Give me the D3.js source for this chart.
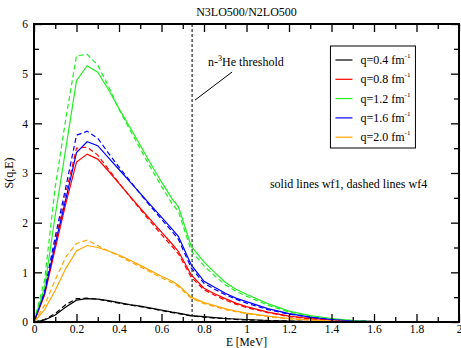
<!DOCTYPE html>
<html>
<head>
<meta charset="utf-8">
<script src="https://cdn.jsdelivr.net/npm/d3@7"></script>
<style>
  body { margin: 0; background: #fff; }
  text { font-family: "Liberation Serif", "DejaVu Serif", serif; fill: #000; }
</style>
</head>
<body>
<div id="canvas"></div>
<script>
// energies [MeV]
var energies = [0, 0.05, 0.1, 0.15, 0.2, 0.25, 0.3, 0.35, 0.4, 0.45, 0.5, 0.55, 0.6, 0.65, 0.68, 0.74,
  0.8, 0.85, 0.9, 0.95, 1.0, 1.1, 1.2, 1.3, 1.4, 1.5, 1.6];

// solid lines wf1
var q04Solid = [0, 0.04, 0.14, 0.30, 0.44, 0.47, 0.46, 0.43, 0.39, 0.35, 0.32, 0.28, 0.24, 0.20, 0.18, 0.13,
  0.11, 0.09, 0.07, 0.06, 0.05, 0.03, 0.02, 0.01, 0.005, 0, 0];
var q08Solid = [0, 0.54, 1.48, 2.39, 3.22, 3.38, 3.28, 3.04, 2.79, 2.54, 2.29, 2.05, 1.81, 1.57, 1.42, 0.95,
  0.68, 0.57, 0.47, 0.38, 0.31, 0.20, 0.12, 0.07, 0.04, 0.02, 0.01];
var q12Solid = [0, 0.70, 2.15, 3.50, 4.86, 5.16, 5.03, 4.68, 4.30, 3.93, 3.56, 3.18, 2.82, 2.48, 2.32, 1.52,
  1.21, 1.00, 0.80, 0.66, 0.56, 0.37, 0.22, 0.13, 0.07, 0.03, 0.01];
var q16Solid = [0, 0.58, 1.57, 2.48, 3.41, 3.63, 3.55, 3.31, 3.07, 2.83, 2.59, 2.35, 2.11, 1.87, 1.72, 1.15,
  0.82, 0.70, 0.58, 0.48, 0.41, 0.27, 0.17, 0.10, 0.05, 0.02, 0.01];
var q20Solid = [0, 0.25, 0.64, 1.08, 1.43, 1.54, 1.50, 1.43, 1.35, 1.25, 1.14, 1.03, 0.92, 0.82, 0.74, 0.50,
  0.39, 0.33, 0.27, 0.22, 0.18, 0.12, 0.07, 0.04, 0.02, 0.01, 0];

// dashed lines wf4
var q04Dashed = [0, 0.05, 0.17, 0.35, 0.47, 0.48, 0.46, 0.42, 0.38, 0.34, 0.31, 0.27, 0.23, 0.19, 0.17, 0.12,
  0.10, 0.08, 0.07, 0.05, 0.04, 0.03, 0.02, 0.01, 0.005, 0, 0];
var q08Dashed = [0, 0.61, 1.62, 2.59, 3.50, 3.52, 3.36, 3.08, 2.80, 2.53, 2.27, 2.01, 1.76, 1.52, 1.37, 0.90,
  0.65, 0.54, 0.44, 0.36, 0.29, 0.19, 0.11, 0.06, 0.03, 0.02, 0.01];
var q12Dashed = [0, 0.85, 2.72, 4.10, 5.36, 5.39, 5.17, 4.75, 4.28, 3.88, 3.49, 3.10, 2.73, 2.38, 2.22, 1.43,
  1.13, 0.93, 0.75, 0.62, 0.52, 0.34, 0.20, 0.12, 0.06, 0.03, 0.01];
var q16Dashed = [0, 0.64, 1.72, 2.72, 3.76, 3.84, 3.70, 3.40, 3.12, 2.85, 2.58, 2.32, 2.07, 1.82, 1.66, 1.09,
  0.78, 0.66, 0.55, 0.46, 0.38, 0.25, 0.16, 0.09, 0.05, 0.02, 0.01];
var q20Dashed = [0, 0.34, 0.85, 1.31, 1.58, 1.65, 1.54, 1.43, 1.33, 1.22, 1.11, 1.00, 0.89, 0.79, 0.71, 0.48,
  0.37, 0.31, 0.25, 0.21, 0.17, 0.11, 0.06, 0.04, 0.02, 0.01, 0];

var legendLabels = ["q=0.4 fm", "q=0.8 fm", "q=1.2 fm", "q=1.6 fm", "q=2.0 fm"];
var seriesColors = ["#000000", "#ff0000", "#22ee22", "#0000ff", "#ffa500"];
var xTicks = [0, 0.2, 0.4, 0.6, 0.8, 1, 1.2, 1.4, 1.6, 1.8, 2];
var yTicks = [0, 1, 2, 3, 4, 5, 6];
var threshold = 0.744;

var ChartUtil = {
  draw: function() {
    var margin = { top: 24, right: 2, bottom: 26, left: 34 },
      width = 461 - margin.left - margin.right,
      height = 348 - margin.top - margin.bottom;

    var svg = d3.select("#canvas").append("svg")
      .attr("width", 461)
      .attr("height", 348);

    var g = svg.append("g")
      .attr("transform", "translate(" + margin.left + "," + margin.top + ")");

    var x = d3.scaleLinear().domain([0, 2]).range([0, width]);
    var y = d3.scaleLinear().domain([0, 6]).range([height, 0]);

    var solids = [q04Solid, q08Solid, q12Solid, q16Solid, q20Solid];
    var dashes = [q04Dashed, q08Dashed, q12Dashed, q16Dashed, q20Dashed];

    var line = d3.line()
      .x(function(d, i) { return x(energies[i]); })
      .y(function(d) { return y(d); });

    // threshold marker
    g.append("line")
      .attr("x1", x(threshold)).attr("x2", x(threshold))
      .attr("y1", 0).attr("y2", height)
      .attr("stroke", "#000").attr("stroke-width", 1)
      .attr("stroke-dasharray", "3,2");

    // curves, dashed first
    dashes.forEach(function(s, i) {
      g.append("path").datum(s)
        .attr("d", line)
        .attr("fill", "none")
        .attr("stroke", seriesColors[i])
        .attr("stroke-width", 1.2)
        .attr("stroke-dasharray", "5,3");
    });
    solids.forEach(function(s, i) {
      g.append("path").datum(s)
        .attr("d", line)
        .attr("fill", "none")
        .attr("stroke", seriesColors[i])
        .attr("stroke-width", 1.2);
    });

    // minor + major ticks on all four sides, pointing inward
    var xMinor = d3.range(0.1, 2, 0.2);
    var yMinor = d3.range(0.5, 6, 1);

    function fmtX(d) { return d === 0 ? "0" : (d % 1 === 0 ? d3.format("d")(d) : d3.format(".1f")(d)); }

    g.append("g").attr("transform", "translate(0," + height + ")")
      .call(d3.axisBottom(x).tickValues(xTicks).tickSizeInner(-8).tickSizeOuter(0).tickPadding(3).tickFormat(fmtX));
    g.append("g")
      .call(d3.axisTop(x).tickValues(xTicks).tickSizeInner(-8).tickSizeOuter(0).tickFormat(""));
    g.append("g")
      .call(d3.axisLeft(y).tickValues(yTicks).tickSizeInner(-8).tickSizeOuter(0).tickPadding(6).tickFormat(d3.format("d")));
    g.append("g").attr("transform", "translate(" + width + ",0)")
      .call(d3.axisRight(y).tickValues(yTicks).tickSizeInner(-8).tickSizeOuter(0).tickFormat(""));

    g.append("g").attr("transform", "translate(0," + height + ")")
      .call(d3.axisBottom(x).tickValues(xMinor).tickSizeInner(-5).tickSizeOuter(0).tickFormat(""));
    g.append("g")
      .call(d3.axisTop(x).tickValues(xMinor).tickSizeInner(-5).tickSizeOuter(0).tickFormat(""));
    g.append("g")
      .call(d3.axisLeft(y).tickValues(yMinor).tickSizeInner(-5).tickSizeOuter(0).tickFormat(""));
    g.append("g").attr("transform", "translate(" + width + ",0)")
      .call(d3.axisRight(y).tickValues(yMinor).tickSizeInner(-5).tickSizeOuter(0).tickFormat(""));

    g.selectAll(".domain").attr("stroke", "none");
    g.selectAll(".tick line").attr("stroke", "#000").attr("stroke-width", 1.3);
    g.selectAll(".tick text")
      .style("font-family", "'Liberation Serif', serif")
      .style("font-size", "11.5px")
      .attr("fill", "#000");

    // frame
    g.append("rect")
      .attr("width", width).attr("height", height)
      .attr("fill", "none").attr("stroke", "#000").attr("stroke-width", 2);

    // title and axis labels
    svg.append("text")
      .attr("x", margin.left + width / 2).attr("y", 16)
      .attr("text-anchor", "middle").style("font-size", "12px")
      .text("N3LO500/N2LO500");
    svg.append("text")
      .attr("x", margin.left + width / 2).attr("y", 346)
      .attr("text-anchor", "middle").style("font-size", "11.5px")
      .text("E [MeV]");
    svg.append("text")
      .attr("transform", "translate(13," + (margin.top + height / 2) + ") rotate(-90)")
      .attr("text-anchor", "middle").style("font-size", "12px")
      .text("S(q,E)");

    // threshold annotation
    var th = g.append("text")
      .attr("x", x(threshold) + 16).attr("y", 42)
      .style("font-size", "12px");
    th.append("tspan").text("n-");
    th.append("tspan").attr("dy", -5).style("font-size", "8px").text("3");
    th.append("tspan").attr("dy", 5).text("He threshold");
    g.append("line")
      .attr("x1", x(threshold) + 3).attr("y1", 76)
      .attr("x2", x(threshold) + 40).attr("y2", 48)
      .attr("stroke", "#000").attr("stroke-width", 1);

    g.append("text")
      .attr("x", x(1.11)).attr("y", 164)
      .style("font-size", "12px")
      .text("solid lines wf1, dashed lines wf4");

    // legend
    var leg = g.append("g").attr("transform", "translate(" + (x(1.395)) + ",22)");
    leg.append("rect")
      .attr("width", 85).attr("height", 102)
      .attr("fill", "#fff").attr("stroke", "#000").attr("stroke-width", 1);
    legendLabels.forEach(function(lab, i) {
      var yy = 14 + i * 19.3;
      leg.append("line")
        .attr("x1", 5).attr("x2", 22)
        .attr("y1", yy).attr("y2", yy)
        .attr("stroke", seriesColors[i]).attr("stroke-width", 1.2);
      var t = leg.append("text")
        .attr("x", 30).attr("y", yy + 4)
        .style("font-size", "12px");
      t.append("tspan").text(lab);
      t.append("tspan").attr("dy", -6).style("font-size", "7px").text("-1");
    });
  }
};
ChartUtil.draw();
</script>
</body>
</html>
